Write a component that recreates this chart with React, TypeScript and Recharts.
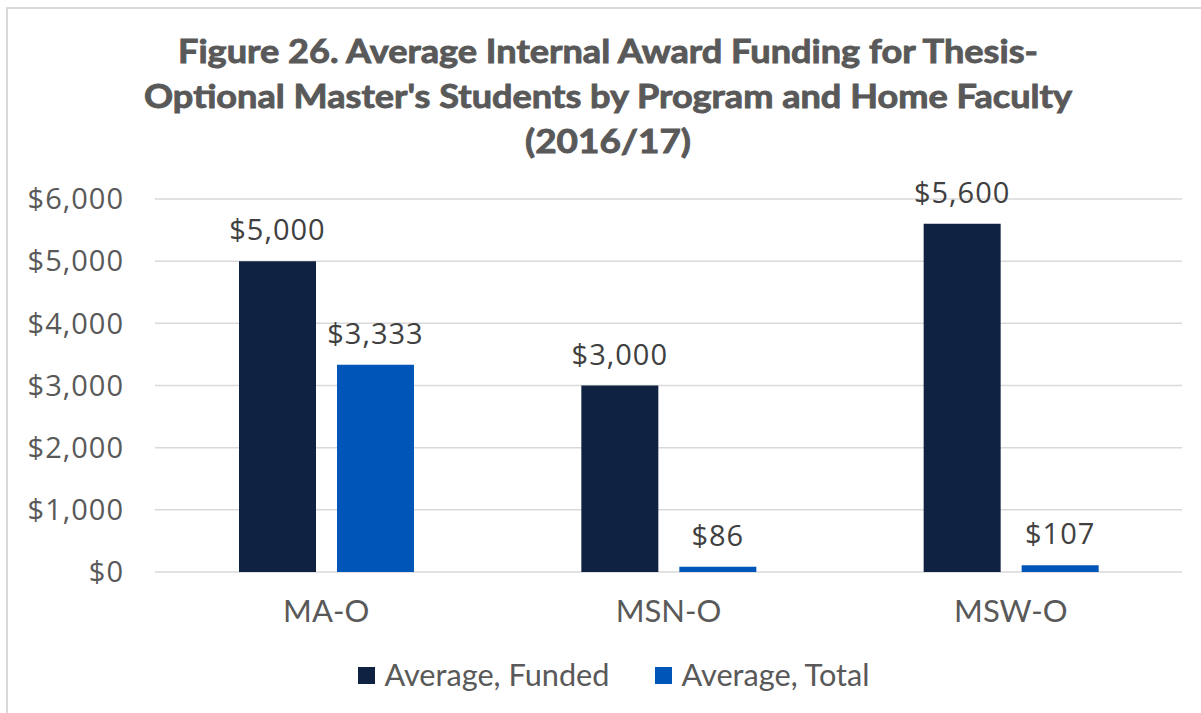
import { BarChart, Bar, XAxis, YAxis, CartesianGrid, Legend, LabelList } from "recharts";

const programs = ["MA-O", "MSN-O", "MSW-O"];
const averageFunded = [5000, 3000, 5600];
const averageTotal = [3333, 86, 107];
const yTicks = [0, 1000, 2000, 3000, 4000, 5000, 6000];
const titleLines = [
  "Figure 26. Average Internal Award Funding for Thesis-",
  "Optional Master's Students by Program and Home Faculty",
  "(2016/17)",
];

const NAVY = "#0f2242";
const BLUE = "#0055b8";
const GREY = "#595959";

const data = programs.map((p, i) => ({
  program: p,
  funded: averageFunded[i],
  total: averageTotal[i],
}));

function money(v: number) {
  return "$" + Number(v).toLocaleString("en-US");
}

function ValueLabel(props: any) {
  const { x, y, width, value } = props;
  return (
    <text
      x={Number(x) + Number(width) / 2}
      y={Number(y) - 21}
      textAnchor="middle"
      fill="#404040"
      fontFamily="Open Sans"
      fontSize={29}
      letterSpacing={1}
    >
      {money(value)}
    </text>
  );
}

function LegendBox() {
  const items = [
    { label: "Average, Funded", color: NAVY },
    { label: "Average, Total", color: BLUE },
  ];
  return (
    <div style={{ display: "flex", justifyContent: "center", gap: 46, paddingLeft: 27 }}>
      {items.map((it) => (
        <div key={it.label} style={{ display: "flex", alignItems: "center", gap: 9 }}>
          <span style={{ width: 17, height: 17, background: it.color, display: "inline-block" }} />
          <span style={{ fontFamily: "Lato", fontSize: 30.7, color: GREY, lineHeight: "40px" }}>
            {it.label}
          </span>
        </div>
      ))}
    </div>
  );
}

export default function App() {
  return (
    <div
      style={{
        position: "absolute",
        left: 0,
        top: 0,
        width: 1201,
        height: 713,
        overflow: "hidden",
        background: "#fff",
      }}
    >
      <div
        style={{
          position: "absolute",
          left: 6,
          top: 7,
          width: 1210,
          height: 740,
          border: "2px solid #d9d9d9",
        }}
      />
      <svg width={1201} height={180} style={{ position: "absolute", left: 0, top: 0 }}>
        {titleLines.map((t, i) => (
          <text
            key={i}
            x={608}
            y={63 + i * 45}
            textAnchor="middle"
            fontFamily="Lato"
            fontWeight={700}
            fontSize={33}
            fill={GREY}
            stroke={GREY}
            strokeWidth={0.9}
            textLength={[860, 928, 166][i]}
            lengthAdjust="spacingAndGlyphs"
          >
            {t}
          </text>
        ))}
      </svg>
      <div style={{ position: "absolute", left: 0, top: 0 }}>
        <BarChart
          width={1201}
          height={713}
          data={data}
          margin={{ top: 199, right: 19, left: 0, bottom: 81 }}
          barSize={77}
          barGap={21}
        >
          <CartesianGrid vertical={false} stroke="#d9d9d9" strokeWidth={1.5} />
          <XAxis
            dataKey="program"
            height={60}
            axisLine={false}
            tickLine={false}
            tickSize={0}
            tickMargin={28}
            tick={{ fontFamily: "Lato", fontSize: 31, fill: GREY }}
          />
          <YAxis
            domain={[0, 6000]}
            ticks={yTicks}
            width={155}
            axisLine={false}
            tickLine={false}
            tickSize={0}
            tickMargin={31}
            tickFormatter={money}
            tick={{ fontFamily: "Open Sans", fontSize: 29, fill: GREY, letterSpacing: 1 }}
          />
          <Legend
            layout="horizontal"
            verticalAlign="middle"
            align="center"
            content={() => <LegendBox />}
            wrapperStyle={{ top: 655, left: 0, width: 1201 }}
          />
          <Bar dataKey="funded" fill={NAVY} isAnimationActive={false}>
            <LabelList dataKey="funded" content={ValueLabel} />
          </Bar>
          <Bar dataKey="total" fill={BLUE} isAnimationActive={false}>
            <LabelList dataKey="total" content={ValueLabel} />
          </Bar>
        </BarChart>
      </div>
    </div>
  );
}
